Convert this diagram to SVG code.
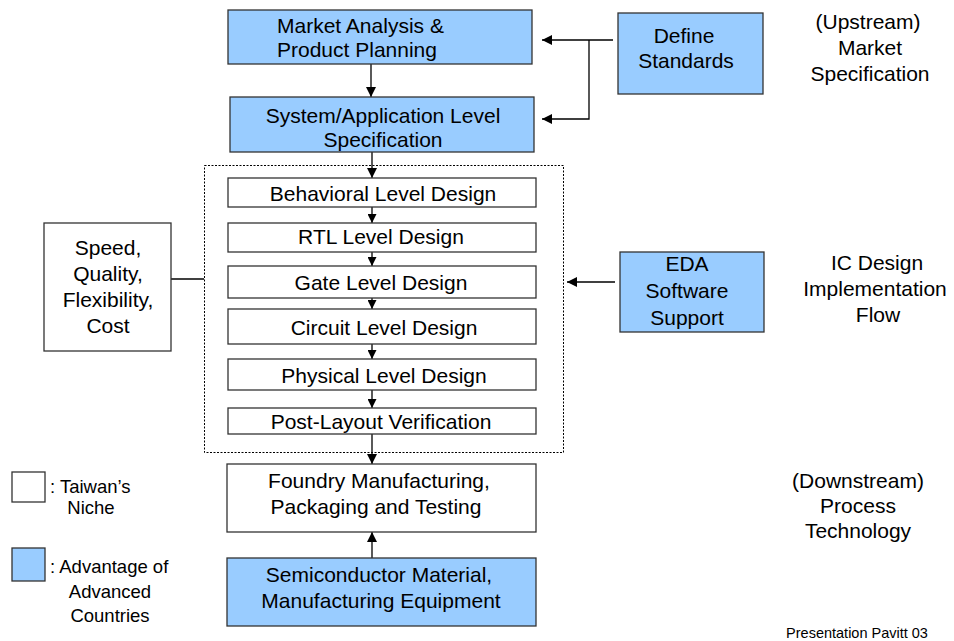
<svg xmlns="http://www.w3.org/2000/svg" width="954" height="641" viewBox="0 0 954 641">
  <defs>
    <marker id="head" markerUnits="userSpaceOnUse" markerWidth="10" markerHeight="10" refX="10" refY="5" orient="auto">
      <path d="M0,0 L10,5 L0,10 Z" fill="#000"/>
    </marker>
    <marker id="headSmall" markerUnits="userSpaceOnUse" markerWidth="9" markerHeight="9" refX="9" refY="4.5" orient="auto">
      <path d="M0,0 L9,4.5 L0,9 Z" fill="#000"/>
    </marker>
  </defs>
  <style>
    text { font-family: "Liberation Sans", Arial, sans-serif; fill: #000; }
    .box { stroke: #333; stroke-width: 1.3; }
    .blue { fill: #99ccff; }
    .white { fill: #fff; }
    .t21 { font-size: 21px; text-anchor: middle; }
    .lbl { font-size: 21px; text-anchor: middle; }
    .leg { font-size: 18.5px; }
    .wire { stroke: #000; stroke-width: 1.3; fill: none; }
    .dash { stroke: #000; stroke-width: 1; fill: none; stroke-dasharray: 2 1.5; }
  </style>
  <rect width="954" height="641" fill="#fff"/>

  <!-- dotted frame around the implementation flow -->
  <rect id="ic-frame" class="dash" x="204.5" y="165.5" width="359" height="287"/>

  <!-- connectors -->
  <g id="connectors">
    <line class="wire" x1="371" y1="64" x2="371" y2="97" marker-end="url(#head)"/>
    <line class="wire" x1="372" y1="152" x2="372" y2="178" marker-end="url(#head)"/>
    <line class="wire" x1="372" y1="207" x2="372" y2="223" marker-end="url(#headSmall)"/>
    <line class="wire" x1="372" y1="252" x2="372" y2="266" marker-end="url(#headSmall)"/>
    <line class="wire" x1="372" y1="298" x2="372" y2="309" marker-end="url(#headSmall)"/>
    <line class="wire" x1="372" y1="344" x2="372" y2="359" marker-end="url(#headSmall)"/>
    <line class="wire" x1="372" y1="390" x2="372" y2="408" marker-end="url(#headSmall)"/>
    <line class="wire" x1="372" y1="434" x2="372" y2="464" marker-end="url(#head)"/>
    <line class="wire" x1="372" y1="558" x2="372" y2="532" marker-end="url(#head)"/>
    <!-- Define Standards feeds both upper boxes -->
    <line class="wire" x1="613" y1="40" x2="542" y2="40" marker-end="url(#head)"/>
    <polyline class="wire" points="589,40 589,119 542,119" marker-end="url(#head)"/>
    <!-- EDA support into the flow -->
    <line class="wire" x1="615" y1="282" x2="567" y2="282" marker-end="url(#head)"/>
    <!-- criteria box tied to the flow -->
    <line class="wire" x1="171" y1="279" x2="204" y2="279"/>
  </g>

  <g id="market-analysis">
    <rect class="box blue" x="228" y="10" width="304" height="54"/>
    <text class="t21" x="277" y="33" style="text-anchor:start">Market Analysis &amp;</text>
    <text class="t21" x="277" y="57" style="text-anchor:start">Product Planning</text>
  </g>

  <g id="system-spec">
    <rect class="box blue" x="230" y="97" width="304" height="55"/>
    <text class="t21" x="383" y="123">System/Application Level</text>
    <text class="t21" x="383" y="147">Specification</text>
  </g>

  <g id="define-standards">
    <rect class="box blue" x="618" y="13" width="145" height="81"/>
    <text class="t21" x="684" y="43">Define</text>
    <text class="t21" x="686" y="68">Standards</text>
  </g>

  <g id="behavioral">
    <rect class="box white" x="228" y="178" width="308" height="29"/>
    <text class="t21" x="383" y="201">Behavioral Level Design</text>
  </g>
  <g id="rtl">
    <rect class="box white" x="228" y="223" width="308" height="29"/>
    <text class="t21" x="381" y="244">RTL Level Design</text>
  </g>
  <g id="gate">
    <rect class="box white" x="228" y="266" width="308" height="32"/>
    <text class="t21" x="381" y="290">Gate Level Design</text>
  </g>
  <g id="circuit">
    <rect class="box white" x="228" y="309" width="308" height="35"/>
    <text class="t21" x="384" y="335">Circuit Level Design</text>
  </g>
  <g id="physical">
    <rect class="box white" x="228" y="359" width="308" height="31"/>
    <text class="t21" x="384" y="383">Physical Level Design</text>
  </g>
  <g id="post-layout">
    <rect class="box white" x="228" y="408" width="308" height="26"/>
    <text class="t21" x="381" y="429">Post-Layout Verification</text>
  </g>

  <g id="criteria">
    <rect class="box white" x="44" y="223" width="127" height="128"/>
    <text class="t21" x="108" y="255">Speed,</text>
    <text class="t21" x="108" y="281">Quality,</text>
    <text class="t21" x="108" y="307">Flexibility,</text>
    <text class="t21" x="108" y="333">Cost</text>
  </g>

  <g id="eda">
    <rect class="box blue" x="620" y="252" width="144" height="80"/>
    <text class="t21" x="687" y="271">EDA</text>
    <text class="t21" x="687" y="298">Software</text>
    <text class="t21" x="687" y="325">Support</text>
  </g>

  <g id="foundry">
    <rect class="box white" x="227" y="464" width="309" height="68"/>
    <text class="t21" x="379" y="488">Foundry Manufacturing,</text>
    <text class="t21" x="376" y="514">Packaging and Testing</text>
  </g>

  <g id="materials">
    <rect class="box blue" x="227" y="558" width="309" height="68"/>
    <text class="t21" x="379" y="582">Semiconductor Material,</text>
    <text class="t21" x="381" y="608">Manufacturing Equipment</text>
  </g>

  <!-- stage labels -->
  <g id="label-upstream">
    <text class="lbl" x="868" y="29">(Upstream)</text>
    <text class="lbl" x="870" y="55">Market</text>
    <text class="lbl" x="870" y="81">Specification</text>
  </g>
  <g id="label-ic">
    <text class="lbl" x="877" y="270">IC Design</text>
    <text class="lbl" x="875" y="296">Implementation</text>
    <text class="lbl" x="878" y="322">Flow</text>
  </g>
  <g id="label-downstream">
    <text class="lbl" x="858" y="488">(Downstream)</text>
    <text class="lbl" x="858" y="513">Process</text>
    <text class="lbl" x="858" y="538">Technology</text>
  </g>

  <!-- legend -->
  <g id="legend">
    <rect class="box white" x="12" y="472" width="33" height="30"/>
    <text class="leg" x="50" y="493">: Taiwan’s</text>
    <text class="leg" x="91" y="514" text-anchor="middle">Niche</text>
    <rect class="box blue" x="12" y="548" width="33" height="33"/>
    <text class="leg" x="50" y="573">: Advantage of</text>
    <text class="leg" x="110" y="598" text-anchor="middle">Advanced</text>
    <text class="leg" x="110" y="622" text-anchor="middle">Countries</text>
  </g>

  <text id="credit" x="857" y="638" font-size="14.5" text-anchor="middle">Presentation Pavitt 03</text>
</svg>
